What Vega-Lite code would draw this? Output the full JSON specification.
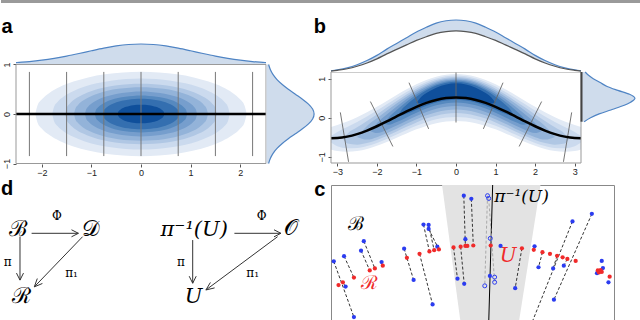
{
"$schema":"https://vega.github.io/schema/vega-lite/v6.json",
"padding":0,
"background":"white",
"config":{"view":{"stroke":null},"axis":{"grid":false,"domain":false,"tickSize":3,"tickColor":"#555","labelFontSize":9,"labelFont":"Liberation Sans","labelColor":"#222","labelFlush":false}},
"datasets":{
"aTop":[{"x":-2.52,"d":0.072},{"x":-2.5,"d":0.076},{"x":-2.25,"d":0.123},{"x":-2,"d":0.191},{"x":-1.75,"d":0.282},{"x":-1.5,"d":0.395},{"x":-1.25,"d":0.524},{"x":-1,"d":0.662},{"x":-0.75,"d":0.793},{"x":-0.5,"d":0.902},{"x":-0.25,"d":0.975},{"x":0,"d":1},{"x":0.25,"d":0.975},{"x":0.5,"d":0.902},{"x":0.75,"d":0.793},{"x":1,"d":0.662},{"x":1.25,"d":0.524},{"x":1.5,"d":0.395},{"x":1.75,"d":0.282},{"x":2,"d":0.191},{"x":2.25,"d":0.123},{"x":2.5,"d":0.076},{"x":2.52,"d":0.072}],
"aRight":[{"y":-1,"h":0.044},{"y":-0.9,"h":0.08},{"y":-0.8,"h":0.135},{"y":-0.7,"h":0.216},{"y":-0.6,"h":0.325},{"y":-0.5,"h":0.458},{"y":-0.4,"h":0.607},{"y":-0.3,"h":0.755},{"y":-0.2,"h":0.882},{"y":-0.1,"h":0.969},{"y":0,"h":1},{"y":0.1,"h":0.969},{"y":0.2,"h":0.882},{"y":0.3,"h":0.755},{"y":0.4,"h":0.607},{"y":0.5,"h":0.458},{"y":0.6,"h":0.325},{"y":0.7,"h":0.216},{"y":0.8,"h":0.135},{"y":0.9,"h":0.08},{"y":1,"h":0.044}],
"aEll":[
{"l":1,"x":-2.13,"y":0,"y2":0},{"l":1,"x":-2.087,"y":0.17,"y2":-0.17},{"l":1,"x":-2.002,"y":0.291,"y2":-0.291},{"l":1,"x":-1.853,"y":0.42,"y2":-0.42},{"l":1,"x":-1.64,"y":0.544,"y2":-0.544},{"l":1,"x":-1.363,"y":0.654,"y2":-0.654},{"l":1,"x":-1.065,"y":0.738,"y2":-0.738},{"l":1,"x":-0.724,"y":0.801,"y2":-0.801},{"l":1,"x":-0.362,"y":0.839,"y2":-0.839},{"l":1,"x":0,"y":0.852,"y2":-0.852},{"l":1,"x":0.362,"y":0.839,"y2":-0.839},{"l":1,"x":0.724,"y":0.801,"y2":-0.801},{"l":1,"x":1.065,"y":0.738,"y2":-0.738},{"l":1,"x":1.363,"y":0.654,"y2":-0.654},{"l":1,"x":1.64,"y":0.544,"y2":-0.544},{"l":1,"x":1.853,"y":0.42,"y2":-0.42},{"l":1,"x":2.002,"y":0.291,"y2":-0.291},{"l":1,"x":2.087,"y":0.17,"y2":-0.17},{"l":1,"x":2.13,"y":0,"y2":0},
{"l":2,"x":-1.79,"y":0,"y2":0},{"l":2,"x":-1.754,"y":0.142,"y2":-0.142},{"l":2,"x":-1.683,"y":0.244,"y2":-0.244},{"l":2,"x":-1.557,"y":0.353,"y2":-0.353},{"l":2,"x":-1.378,"y":0.457,"y2":-0.457},{"l":2,"x":-1.146,"y":0.55,"y2":-0.55},{"l":2,"x":-0.895,"y":0.62,"y2":-0.62},{"l":2,"x":-0.609,"y":0.673,"y2":-0.673},{"l":2,"x":-0.304,"y":0.705,"y2":-0.705},{"l":2,"x":0,"y":0.716,"y2":-0.716},{"l":2,"x":0.304,"y":0.705,"y2":-0.705},{"l":2,"x":0.609,"y":0.673,"y2":-0.673},{"l":2,"x":0.895,"y":0.62,"y2":-0.62},{"l":2,"x":1.146,"y":0.55,"y2":-0.55},{"l":2,"x":1.378,"y":0.457,"y2":-0.457},{"l":2,"x":1.557,"y":0.353,"y2":-0.353},{"l":2,"x":1.683,"y":0.244,"y2":-0.244},{"l":2,"x":1.754,"y":0.142,"y2":-0.142},{"l":2,"x":1.79,"y":0,"y2":0},
{"l":3,"x":-1.53,"y":0,"y2":0},{"l":3,"x":-1.499,"y":0.122,"y2":-0.122},{"l":3,"x":-1.438,"y":0.209,"y2":-0.209},{"l":3,"x":-1.331,"y":0.302,"y2":-0.302},{"l":3,"x":-1.178,"y":0.39,"y2":-0.39},{"l":3,"x":-0.979,"y":0.47,"y2":-0.47},{"l":3,"x":-0.765,"y":0.53,"y2":-0.53},{"l":3,"x":-0.52,"y":0.575,"y2":-0.575},{"l":3,"x":-0.26,"y":0.603,"y2":-0.603},{"l":3,"x":0,"y":0.612,"y2":-0.612},{"l":3,"x":0.26,"y":0.603,"y2":-0.603},{"l":3,"x":0.52,"y":0.575,"y2":-0.575},{"l":3,"x":0.765,"y":0.53,"y2":-0.53},{"l":3,"x":0.979,"y":0.47,"y2":-0.47},{"l":3,"x":1.178,"y":0.39,"y2":-0.39},{"l":3,"x":1.331,"y":0.302,"y2":-0.302},{"l":3,"x":1.438,"y":0.209,"y2":-0.209},{"l":3,"x":1.499,"y":0.122,"y2":-0.122},{"l":3,"x":1.53,"y":0,"y2":0},
{"l":4,"x":-1.35,"y":0,"y2":0},{"l":4,"x":-1.323,"y":0.107,"y2":-0.107},{"l":4,"x":-1.269,"y":0.184,"y2":-0.184},{"l":4,"x":-1.175,"y":0.266,"y2":-0.266},{"l":4,"x":-1.04,"y":0.345,"y2":-0.345},{"l":4,"x":-0.864,"y":0.415,"y2":-0.415},{"l":4,"x":-0.675,"y":0.468,"y2":-0.468},{"l":4,"x":-0.459,"y":0.508,"y2":-0.508},{"l":4,"x":-0.23,"y":0.532,"y2":-0.532},{"l":4,"x":0,"y":0.54,"y2":-0.54},{"l":4,"x":0.23,"y":0.532,"y2":-0.532},{"l":4,"x":0.459,"y":0.508,"y2":-0.508},{"l":4,"x":0.675,"y":0.468,"y2":-0.468},{"l":4,"x":0.864,"y":0.415,"y2":-0.415},{"l":4,"x":1.04,"y":0.345,"y2":-0.345},{"l":4,"x":1.175,"y":0.266,"y2":-0.266},{"l":4,"x":1.269,"y":0.184,"y2":-0.184},{"l":4,"x":1.323,"y":0.107,"y2":-0.107},{"l":4,"x":1.35,"y":0,"y2":0},
{"l":5,"x":-1.13,"y":0,"y2":0},{"l":5,"x":-1.107,"y":0.09,"y2":-0.09},{"l":5,"x":-1.062,"y":0.154,"y2":-0.154},{"l":5,"x":-0.983,"y":0.223,"y2":-0.223},{"l":5,"x":-0.87,"y":0.288,"y2":-0.288},{"l":5,"x":-0.723,"y":0.347,"y2":-0.347},{"l":5,"x":-0.565,"y":0.391,"y2":-0.391},{"l":5,"x":-0.384,"y":0.425,"y2":-0.425},{"l":5,"x":-0.192,"y":0.445,"y2":-0.445},{"l":5,"x":0,"y":0.452,"y2":-0.452},{"l":5,"x":0.192,"y":0.445,"y2":-0.445},{"l":5,"x":0.384,"y":0.425,"y2":-0.425},{"l":5,"x":0.565,"y":0.391,"y2":-0.391},{"l":5,"x":0.723,"y":0.347,"y2":-0.347},{"l":5,"x":0.87,"y":0.288,"y2":-0.288},{"l":5,"x":0.983,"y":0.223,"y2":-0.223},{"l":5,"x":1.062,"y":0.154,"y2":-0.154},{"l":5,"x":1.107,"y":0.09,"y2":-0.09},{"l":5,"x":1.13,"y":0,"y2":0},
{"l":6,"x":-0.93,"y":0,"y2":0},{"l":6,"x":-0.911,"y":0.074,"y2":-0.074},{"l":6,"x":-0.874,"y":0.127,"y2":-0.127},{"l":6,"x":-0.809,"y":0.183,"y2":-0.183},{"l":6,"x":-0.716,"y":0.237,"y2":-0.237},{"l":6,"x":-0.595,"y":0.286,"y2":-0.286},{"l":6,"x":-0.465,"y":0.322,"y2":-0.322},{"l":6,"x":-0.316,"y":0.35,"y2":-0.35},{"l":6,"x":-0.158,"y":0.366,"y2":-0.366},{"l":6,"x":0,"y":0.372,"y2":-0.372},{"l":6,"x":0.158,"y":0.366,"y2":-0.366},{"l":6,"x":0.316,"y":0.35,"y2":-0.35},{"l":6,"x":0.465,"y":0.322,"y2":-0.322},{"l":6,"x":0.595,"y":0.286,"y2":-0.286},{"l":6,"x":0.716,"y":0.237,"y2":-0.237},{"l":6,"x":0.809,"y":0.183,"y2":-0.183},{"l":6,"x":0.874,"y":0.127,"y2":-0.127},{"l":6,"x":0.911,"y":0.074,"y2":-0.074},{"l":6,"x":0.93,"y":0,"y2":0},
{"l":7,"x":-0.77,"y":0,"y2":0},{"l":7,"x":-0.755,"y":0.061,"y2":-0.061},{"l":7,"x":-0.724,"y":0.105,"y2":-0.105},{"l":7,"x":-0.67,"y":0.152,"y2":-0.152},{"l":7,"x":-0.593,"y":0.197,"y2":-0.197},{"l":7,"x":-0.493,"y":0.237,"y2":-0.237},{"l":7,"x":-0.385,"y":0.267,"y2":-0.267},{"l":7,"x":-0.262,"y":0.29,"y2":-0.29},{"l":7,"x":-0.131,"y":0.303,"y2":-0.303},{"l":7,"x":0,"y":0.308,"y2":-0.308},{"l":7,"x":0.131,"y":0.303,"y2":-0.303},{"l":7,"x":0.262,"y":0.29,"y2":-0.29},{"l":7,"x":0.385,"y":0.267,"y2":-0.267},{"l":7,"x":0.493,"y":0.237,"y2":-0.237},{"l":7,"x":0.593,"y":0.197,"y2":-0.197},{"l":7,"x":0.67,"y":0.152,"y2":-0.152},{"l":7,"x":0.724,"y":0.105,"y2":-0.105},{"l":7,"x":0.755,"y":0.061,"y2":-0.061},{"l":7,"x":0.77,"y":0,"y2":0},
{"l":8,"x":-0.47,"y":0,"y2":0},{"l":8,"x":-0.461,"y":0.037,"y2":-0.037},{"l":8,"x":-0.442,"y":0.064,"y2":-0.064},{"l":8,"x":-0.409,"y":0.093,"y2":-0.093},{"l":8,"x":-0.362,"y":0.12,"y2":-0.12},{"l":8,"x":-0.301,"y":0.144,"y2":-0.144},{"l":8,"x":-0.235,"y":0.163,"y2":-0.163},{"l":8,"x":-0.16,"y":0.177,"y2":-0.177},{"l":8,"x":-0.08,"y":0.185,"y2":-0.185},{"l":8,"x":0,"y":0.188,"y2":-0.188},{"l":8,"x":0.08,"y":0.185,"y2":-0.185},{"l":8,"x":0.16,"y":0.177,"y2":-0.177},{"l":8,"x":0.235,"y":0.163,"y2":-0.163},{"l":8,"x":0.301,"y":0.144,"y2":-0.144},{"l":8,"x":0.362,"y":0.12,"y2":-0.12},{"l":8,"x":0.409,"y":0.093,"y2":-0.093},{"l":8,"x":0.442,"y":0.064,"y2":-0.064},{"l":8,"x":0.461,"y":0.037,"y2":-0.037},{"l":8,"x":0.47,"y":0,"y2":0}
],
"bTop":[{"x":-3.16,"h":0.02,"g":0.016},{"x":-3,"h":0.04,"g":0.032},{"x":-2.75,"h":0.08,"g":0.063},{"x":-2.5,"h":0.14,"g":0.111},{"x":-2.25,"h":0.22,"g":0.174},{"x":-2,"h":0.32,"g":0.253},{"x":-1.75,"h":0.44,"g":0.348},{"x":-1.5,"h":0.55,"g":0.435},{"x":-1.25,"h":0.66,"g":0.521},{"x":-1,"h":0.77,"g":0.608},{"x":-0.75,"h":0.86,"g":0.679},{"x":-0.5,"h":0.94,"g":0.743},{"x":-0.25,"h":0.985,"g":0.778},{"x":0,"h":1,"g":0.79},{"x":0.25,"h":0.985,"g":0.778},{"x":0.5,"h":0.94,"g":0.743},{"x":0.75,"h":0.86,"g":0.679},{"x":1,"h":0.77,"g":0.608},{"x":1.25,"h":0.66,"g":0.521},{"x":1.5,"h":0.55,"g":0.435},{"x":1.75,"h":0.44,"g":0.348},{"x":2,"h":0.32,"g":0.253},{"x":2.25,"h":0.22,"g":0.174},{"x":2.5,"h":0.14,"g":0.111},{"x":2.75,"h":0.08,"g":0.063},{"x":3,"h":0.04,"g":0.032},{"x":3.16,"h":0.02,"g":0.016}],
"bRight":[{"y":-0.1,"h":0.05},{"y":0,"h":0.17},{"y":0.1,"h":0.33},{"y":0.2,"h":0.55},{"y":0.3,"h":0.76},{"y":0.4,"h":0.92},{"y":0.5,"h":1},{"y":0.6,"h":0.9},{"y":0.7,"h":0.68},{"y":0.8,"h":0.48},{"y":0.9,"h":0.35},{"y":1,"h":0.22},{"y":1.1,"h":0.12},{"y":1.17,"h":0.07}],
"bCurve":[{"x":-3.16,"y":-0.52},{"x":-3,"y":-0.515},{"x":-2.75,"y":-0.481},{"x":-2.5,"y":-0.417},{"x":-2.25,"y":-0.327},{"x":-2,"y":-0.216},{"x":-1.75,"y":-0.093},{"x":-1.5,"y":0.037},{"x":-1.25,"y":0.164},{"x":-1,"y":0.281},{"x":-0.75,"y":0.38},{"x":-0.5,"y":0.456},{"x":-0.25,"y":0.504},{"x":0,"y":0.52},{"x":0.25,"y":0.504},{"x":0.5,"y":0.456},{"x":0.75,"y":0.38},{"x":1,"y":0.281},{"x":1.25,"y":0.164},{"x":1.5,"y":0.037},{"x":1.75,"y":-0.093},{"x":2,"y":-0.216},{"x":2.25,"y":-0.327},{"x":2.5,"y":-0.417},{"x":2.75,"y":-0.481},{"x":3,"y":-0.515},{"x":3.16,"y":-0.52}],
"bLines":[{"x":0,"y":-0.12,"x2":0,"y2":1.16},{"x":1.188,"y":0.897,"x2":0.692,"y2":-0.283},{"x":-1.188,"y":0.897,"x2":-0.692,"y2":-0.283},{"x":2.164,"y":0.415,"x2":1.596,"y2":-0.733},{"x":-2.164,"y":0.415,"x2":-1.596,"y2":-0.733},{"x":2.924,"y":0.138,"x2":2.716,"y2":-1.125},{"x":-2.924,"y":0.138,"x2":-2.716,"y2":-1.125}],
"bBand":[
{"l":1,"x":-3.16,"y":-0.233,"y2":-0.807},{"l":1,"x":-3,"y":-0.183,"y2":-0.847},{"l":1,"x":-2.75,"y":-0.094,"y2":-0.868},{"l":1,"x":-2.5,"y":0.015,"y2":-0.849},{"l":1,"x":-2.25,"y":0.141,"y2":-0.795},{"l":1,"x":-2,"y":0.283,"y2":-0.715},{"l":1,"x":-1.75,"y":0.431,"y2":-0.617},{"l":1,"x":-1.5,"y":0.582,"y2":-0.508},{"l":1,"x":-1.25,"y":0.727,"y2":-0.399},{"l":1,"x":-1,"y":0.857,"y2":-0.295},{"l":1,"x":-0.75,"y":0.967,"y2":-0.207},{"l":1,"x":-0.5,"y":1.05,"y2":-0.138},{"l":1,"x":-0.25,"y":1.102,"y2":-0.095},{"l":1,"x":0,"y":1.12,"y2":-0.08},{"l":1,"x":0.25,"y":1.102,"y2":-0.095},{"l":1,"x":0.5,"y":1.05,"y2":-0.138},{"l":1,"x":0.75,"y":0.967,"y2":-0.207},{"l":1,"x":1,"y":0.857,"y2":-0.295},{"l":1,"x":1.25,"y":0.727,"y2":-0.399},{"l":1,"x":1.5,"y":0.582,"y2":-0.508},{"l":1,"x":1.75,"y":0.431,"y2":-0.617},{"l":1,"x":2,"y":0.283,"y2":-0.715},{"l":1,"x":2.25,"y":0.141,"y2":-0.795},{"l":1,"x":2.5,"y":0.015,"y2":-0.849},{"l":1,"x":2.75,"y":-0.094,"y2":-0.868},{"l":1,"x":3,"y":-0.183,"y2":-0.847},{"l":1,"x":3.16,"y":-0.233,"y2":-0.807},
{"l":2,"x":-3.16,"y":-0.466,"y2":-0.633},{"l":2,"x":-3,"y":-0.361,"y2":-0.729},{"l":2,"x":-2.75,"y":-0.237,"y2":-0.779},{"l":2,"x":-2.5,"y":-0.11,"y2":-0.772},{"l":2,"x":-2.25,"y":0.031,"y2":-0.723},{"l":2,"x":-2,"y":0.185,"y2":-0.643},{"l":2,"x":-1.75,"y":0.346,"y2":-0.542},{"l":2,"x":-1.5,"y":0.507,"y2":-0.429},{"l":2,"x":-1.25,"y":0.661,"y2":-0.315},{"l":2,"x":-1,"y":0.8,"y2":-0.206},{"l":2,"x":-0.75,"y":0.917,"y2":-0.113},{"l":2,"x":-0.5,"y":1.006,"y2":-0.04},{"l":2,"x":-0.25,"y":1.061,"y2":0.005},{"l":2,"x":0,"y":1.08,"y2":0.02},{"l":2,"x":0.25,"y":1.061,"y2":0.005},{"l":2,"x":0.5,"y":1.006,"y2":-0.04},{"l":2,"x":0.75,"y":0.917,"y2":-0.113},{"l":2,"x":1,"y":0.8,"y2":-0.206},{"l":2,"x":1.25,"y":0.661,"y2":-0.315},{"l":2,"x":1.5,"y":0.507,"y2":-0.429},{"l":2,"x":1.75,"y":0.346,"y2":-0.542},{"l":2,"x":2,"y":0.185,"y2":-0.643},{"l":2,"x":2.25,"y":0.031,"y2":-0.723},{"l":2,"x":2.5,"y":-0.11,"y2":-0.772},{"l":2,"x":2.75,"y":-0.237,"y2":-0.779},{"l":2,"x":3,"y":-0.361,"y2":-0.729},{"l":2,"x":3.16,"y":-0.466,"y2":-0.633},
{"l":3,"x":-2.85,"y":-0.556,"y2":-0.556},{"l":3,"x":-2.75,"y":-0.415,"y2":-0.657},{"l":3,"x":-2.5,"y":-0.244,"y2":-0.686},{"l":3,"x":-2.25,"y":-0.082,"y2":-0.646},{"l":3,"x":-2,"y":0.087,"y2":-0.569},{"l":3,"x":-1.75,"y":0.26,"y2":-0.466},{"l":3,"x":-1.5,"y":0.432,"y2":-0.35},{"l":3,"x":-1.25,"y":0.596,"y2":-0.23},{"l":3,"x":-1,"y":0.744,"y2":-0.118},{"l":3,"x":-0.75,"y":0.868,"y2":-0.02},{"l":3,"x":-0.5,"y":0.964,"y2":0.054},{"l":3,"x":-0.25,"y":1.02,"y2":0.104},{"l":3,"x":0,"y":1.04,"y2":0.12},{"l":3,"x":0.25,"y":1.02,"y2":0.104},{"l":3,"x":0.5,"y":0.964,"y2":0.054},{"l":3,"x":0.75,"y":0.868,"y2":-0.02},{"l":3,"x":1,"y":0.744,"y2":-0.118},{"l":3,"x":1.25,"y":0.596,"y2":-0.23},{"l":3,"x":1.5,"y":0.432,"y2":-0.35},{"l":3,"x":1.75,"y":0.26,"y2":-0.466},{"l":3,"x":2,"y":0.087,"y2":-0.569},{"l":3,"x":2.25,"y":-0.082,"y2":-0.646},{"l":3,"x":2.5,"y":-0.244,"y2":-0.686},{"l":3,"x":2.75,"y":-0.415,"y2":-0.657},{"l":3,"x":2.85,"y":-0.556,"y2":-0.556},
{"l":4,"x":-2.5,"y":-0.489,"y2":-0.489},{"l":4,"x":-2.25,"y":-0.209,"y2":-0.557},{"l":4,"x":-2,"y":-0.014,"y2":-0.494},{"l":4,"x":-1.75,"y":0.177,"y2":-0.395},{"l":4,"x":-1.5,"y":0.363,"y2":-0.277},{"l":4,"x":-1.25,"y":0.538,"y2":-0.154},{"l":4,"x":-1,"y":0.697,"y2":-0.037},{"l":4,"x":-0.75,"y":0.828,"y2":0.064},{"l":4,"x":-0.5,"y":0.927,"y2":0.143},{"l":4,"x":-0.25,"y":0.989,"y2":0.193},{"l":4,"x":0,"y":1.01,"y2":0.21},{"l":4,"x":0.25,"y":0.989,"y2":0.193},{"l":4,"x":0.5,"y":0.927,"y2":0.143},{"l":4,"x":0.75,"y":0.828,"y2":0.064},{"l":4,"x":1,"y":0.697,"y2":-0.037},{"l":4,"x":1.25,"y":0.538,"y2":-0.154},{"l":4,"x":1.5,"y":0.363,"y2":-0.277},{"l":4,"x":1.75,"y":0.177,"y2":-0.395},{"l":4,"x":2,"y":-0.014,"y2":-0.494},{"l":4,"x":2.25,"y":-0.209,"y2":-0.557},{"l":4,"x":2.5,"y":-0.489,"y2":-0.489},
{"l":5,"x":-2.15,"y":-0.35,"y2":-0.35},{"l":5,"x":-2,"y":-0.141,"y2":-0.391},{"l":5,"x":-1.75,"y":0.084,"y2":-0.312},{"l":5,"x":-1.5,"y":0.289,"y2":-0.199},{"l":5,"x":-1.25,"y":0.479,"y2":-0.075},{"l":5,"x":-1,"y":0.647,"y2":0.045},{"l":5,"x":-0.75,"y":0.787,"y2":0.149},{"l":5,"x":-0.5,"y":0.893,"y2":0.231},{"l":5,"x":-0.25,"y":0.958,"y2":0.282},{"l":5,"x":0,"y":0.98,"y2":0.3},{"l":5,"x":0.25,"y":0.958,"y2":0.282},{"l":5,"x":0.5,"y":0.893,"y2":0.231},{"l":5,"x":0.75,"y":0.787,"y2":0.149},{"l":5,"x":1,"y":0.647,"y2":0.045},{"l":5,"x":1.25,"y":0.479,"y2":-0.075},{"l":5,"x":1.5,"y":0.289,"y2":-0.199},{"l":5,"x":1.75,"y":0.084,"y2":-0.312},{"l":5,"x":2,"y":-0.141,"y2":-0.391},{"l":5,"x":2.15,"y":-0.35,"y2":-0.35},
{"l":6,"x":-1.8,"y":-0.152,"y2":-0.152},{"l":6,"x":-1.7,"y":0.006,"y2":-0.178},{"l":6,"x":-1.5,"y":0.202,"y2":-0.108},{"l":6,"x":-1.25,"y":0.412,"y2":0.01},{"l":6,"x":-1,"y":0.595,"y2":0.129},{"l":6,"x":-0.75,"y":0.745,"y2":0.235},{"l":6,"x":-0.5,"y":0.857,"y2":0.319},{"l":6,"x":-0.25,"y":0.926,"y2":0.372},{"l":6,"x":0,"y":0.95,"y2":0.39},{"l":6,"x":0.25,"y":0.926,"y2":0.372},{"l":6,"x":0.5,"y":0.857,"y2":0.319},{"l":6,"x":0.75,"y":0.745,"y2":0.235},{"l":6,"x":1,"y":0.595,"y2":0.129},{"l":6,"x":1.25,"y":0.412,"y2":0.01},{"l":6,"x":1.5,"y":0.202,"y2":-0.108},{"l":6,"x":1.7,"y":0.006,"y2":-0.178},{"l":6,"x":1.8,"y":-0.152,"y2":-0.152},
{"l":7,"x":-1.45,"y":0.083,"y2":0.083},{"l":7,"x":-1.38,"y":0.202,"y2":0.06},{"l":7,"x":-1.25,"y":0.335,"y2":0.101},{"l":7,"x":-1,"y":0.54,"y2":0.206},{"l":7,"x":-0.75,"y":0.702,"y2":0.308},{"l":7,"x":-0.5,"y":0.822,"y2":0.39},{"l":7,"x":-0.25,"y":0.896,"y2":0.442},{"l":7,"x":0,"y":0.92,"y2":0.46},{"l":7,"x":0.25,"y":0.896,"y2":0.442},{"l":7,"x":0.5,"y":0.822,"y2":0.39},{"l":7,"x":0.75,"y":0.702,"y2":0.308},{"l":7,"x":1,"y":0.54,"y2":0.206},{"l":7,"x":1.25,"y":0.335,"y2":0.101},{"l":7,"x":1.38,"y":0.202,"y2":0.06},{"l":7,"x":1.45,"y":0.083,"y2":0.083},
{"l":8,"x":-1,"y":0.384,"y2":0.384},{"l":8,"x":-0.9,"y":0.515,"y2":0.367},{"l":8,"x":-0.75,"y":0.632,"y2":0.408},{"l":8,"x":-0.5,"y":0.77,"y2":0.476},{"l":8,"x":-0.25,"y":0.853,"y2":0.523},{"l":8,"x":0,"y":0.88,"y2":0.54},{"l":8,"x":0.25,"y":0.853,"y2":0.523},{"l":8,"x":0.5,"y":0.77,"y2":0.476},{"l":8,"x":0.75,"y":0.632,"y2":0.408},{"l":8,"x":0.9,"y":0.515,"y2":0.367},{"l":8,"x":1,"y":0.384,"y2":0.384}
],
"cBlue":[{"x":-3.09,"y":1.56},{"x":-2.83,"y":1.69},{"x":-2.79,"y":0.92},{"x":-2.58,"y":0.15},{"x":-2.4,"y":1.83},{"x":-2.33,"y":2.07},{"x":-1.88,"y":1.54},{"x":-1.31,"y":1.88},{"x":-1.07,"y":1.09},{"x":-0.59,"y":0.47},{"x":-0.82,"y":2.49},{"x":-0.69,"y":2.48},{"x":-0.69,"y":2.38},{"x":-0.47,"y":1.93},{"x":0.04,"y":1.12},{"x":0.2,"y":3.22},{"x":0.21,"y":0.99},{"x":0.24,"y":2.12},{"x":0.39,"y":3.14},{"x":0.86,"y":1.19},{"x":1.13,"y":1.95},{"x":1.5,"y":0.88},{"x":1.99,"y":1.94},{"x":2.09,"y":1.41},{"x":2.46,"y":1.38},{"x":2.48,"y":0.59},{"x":2.73,"y":1.45},{"x":2.95,"y":2.57},{"x":3.44,"y":2.76},{"x":3.69,"y":1.57},{"x":3.72,"y":1.39},{"x":3.57,"y":1.26},{"x":3.86,"y":1.03}],
"cRed":[{"x":-2.97,"y":0.96},{"x":-2.86,"y":1.03},{"x":-2.58,"y":1.15},{"x":-2.18,"y":1.33},{"x":-2.05,"y":1.38},{"x":-1.85,"y":1.45},{"x":-1.24,"y":1.65},{"x":-0.92,"y":1.75},{"x":-0.67,"y":1.81},{"x":-0.55,"y":1.84},{"x":-0.43,"y":1.86},{"x":-0.06,"y":1.91},{"x":0.12,"y":1.93},{"x":0.24,"y":1.95},{"x":0.29,"y":1.95},{"x":0.44,"y":1.96},{"x":0.88,"y":1.96},{"x":1.67,"y":1.89},{"x":1.97,"y":1.85},{"x":2.19,"y":1.79},{"x":2.38,"y":1.75},{"x":2.56,"y":1.7},{"x":2.7,"y":1.66},{"x":2.82,"y":1.62},{"x":3.03,"y":1.57},{"x":3.59,"y":1.33},{"x":3.66,"y":1.34},{"x":3.62,"y":1.28},{"x":3.69,"y":1.29},{"x":3.89,"y":1.17}],
"cHollow":[{"x":0.8,"y":3.22},{"x":0.83,"y":3.15},{"x":0.87,"y":2.14},{"x":0.98,"y":1.16},{"x":0.98,"y":1.03},{"x":0.73,"y":0.94}],
"cSeg":[{"x":-3.09,"y":1.56,"x2":-2.58,"y2":0.15},{"x":-2.83,"y":1.69,"x2":-2.58,"y2":1.15},{"x":-2.86,"y":1.03,"x2":-2.79,"y2":0.92},{"x":-2.4,"y":1.83,"x2":-2.18,"y2":1.33},{"x":-2.33,"y":2.07,"x2":-2.05,"y2":1.38},{"x":-1.31,"y":1.88,"x2":-1.07,"y2":1.09},{"x":-0.92,"y":1.75,"x2":-0.59,"y2":0.47},{"x":-0.82,"y":2.49,"x2":-0.67,"y2":1.81},{"x":-0.69,"y":2.48,"x2":-0.55,"y2":1.84},{"x":-0.69,"y":2.38,"x2":-0.43,"y2":1.86},{"x":-0.06,"y":1.91,"x2":0.04,"y2":1.12},{"x":0.12,"y":1.93,"x2":0.21,"y2":0.99},{"x":0.2,"y":3.22,"x2":0.24,"y2":1.95},{"x":0.39,"y":3.14,"x2":0.44,"y2":1.96},{"x":1.67,"y":1.89,"x2":1.5,"y2":0.88},{"x":2.19,"y":1.79,"x2":2.09,"y2":1.41},{"x":2.56,"y":1.7,"x2":2.46,"y2":1.38},{"x":2.82,"y":1.62,"x2":2.73,"y2":1.45},{"x":2.95,"y":2.57,"x2":1.9,"y2":-0.05},{"x":3.44,"y":2.76,"x2":2.48,"y2":0.59}],
"cSegL":[{"x":0.8,"y":3.22,"x2":0.73,"y2":0.94},{"x":0.83,"y":3.15,"x2":0.98,"y2":1.03}],
"dSeg":[{"x":1.02,"y":2.95,"x2":2.58,"y2":2.95},{"x":2.35,"y":3.085,"x2":2.58,"y2":2.95},{"x":2.35,"y":2.815,"x2":2.58,"y2":2.95},{"x":0.633,"y":2.82,"x2":0.633,"y2":1.15},{"x":0.516,"y":1.42,"x2":0.633,"y2":1.15},{"x":0.75,"y":1.42,"x2":0.633,"y2":1.15},{"x":2.72,"y":2.82,"x2":1.11,"y2":0.89},{"x":1.38,"y":1.02,"x2":1.11,"y2":0.89},{"x":1.21,"y":1.21,"x2":1.11,"y2":0.89},{"x":7.78,"y":2.95,"x2":9.33,"y2":2.95},{"x":9.1,"y":3.085,"x2":9.33,"y2":2.95},{"x":9.1,"y":2.815,"x2":9.33,"y2":2.95},{"x":6.39,"y":2.69,"x2":6.39,"y2":1.03},{"x":6.273,"y":1.3,"x2":6.39,"y2":1.03},{"x":6.507,"y":1.3,"x2":6.39,"y2":1.03},{"x":9.22,"y":2.82,"x2":6.83,"y2":0.77},{"x":7.12,"y":0.85,"x2":6.83,"y2":0.77},{"x":6.98,"y":1.06,"x2":6.83,"y2":0.77}],
"dBig":[{"t":"ℬ","x":0.583,"y":2.83},{"t":"𝒟","x":3.0,"y":2.83},{"t":"ℛ","x":0.693,"y":0.27},{"t":"𝒪","x":9.67,"y":2.88}],
"dItal":[{"t":"π⁻¹(U)","x":6.44,"y":2.85},{"t":"U","x":6.42,"y":0.27}],
"dSmall":[{"t":"Φ","x":1.86,"y":3.46},{"t":"π","x":0.223,"y":1.69},{"t":"π₁","x":2.35,"y":1.27},{"t":"Φ","x":8.69,"y":3.46},{"t":"π","x":6.0,"y":1.69},{"t":"π₁","x":8.39,"y":1.27}]
},
"spacing":14,
"vconcat":[
{"width":640,"height":3,"view":{"fill":"#9a9a9a","stroke":null},"data":{"values":[]},"mark":{"type":"point"},"encoding":{}},
{"spacing":-4,"hconcat":[
 {"spacing":2,"vconcat":[
  {"width":315,"height":144,"resolve":{"scale":{"x":"independent","y":"independent"}},"layer":[
   {"layer":[
    {"data":{"name":"aEll"},"mark":{"type":"area","interpolate":"monotone","opacity":1},
     "encoding":{"x":{"field":"x","type":"quantitative","scale":{"domain":[-2.8224,3.528],"nice":false,"zero":false},"axis":{"values":[-2,-1,0,1,2],"title":null,"labelPadding":1,"format":"d"}},
                 "y":{"field":"y","type":"quantitative","stack":null,"scale":{"domain":[-1.01,1.8988],"nice":false,"zero":false},"axis":{"values":[-1,0,1],"title":null,"offset":-15,"format":"d","labelAngle":-90,"labelAlign":"center","labelBaseline":"bottom","labelPadding":2}},
                 "y2":{"field":"y2"},
                 "color":{"field":"l","type":"ordinal","scale":{"domain":[1,2,3,4,5,6,7,8],"range":["#e2eaf5","#cbdaee","#b0c7e4","#93b3d9","#769ecd","#5689bf","#346fb0","#0f4f9b"]},"legend":null}}},
    {"data":{"values":[{"x":-2.25},{"x":-1.5},{"x":-0.75},{"x":0},{"x":0.75},{"x":1.5},{"x":2.25}]},"mark":{"type":"rule","color":"#777","strokeWidth":1},
     "encoding":{"x":{"field":"x","type":"quantitative","scale":{"domain":[-2.8224,3.528],"nice":false,"zero":false},"axis":{"values":[-2,-1,0,1,2],"title":null,"labelPadding":1,"format":"d"}},
                 "y":{"datum":-0.85,"type":"quantitative","scale":{"domain":[-1.01,1.8988],"nice":false,"zero":false},"axis":{"values":[-1,0,1],"title":null,"offset":-15,"format":"d","labelAngle":-90,"labelAlign":"center","labelBaseline":"bottom","labelPadding":2}},
                 "y2":{"datum":0.85}}},
    {"data":{"values":[{}]},"mark":{"type":"rule","color":"#000","strokeWidth":2.5},
     "encoding":{"x":{"datum":-2.52,"type":"quantitative","scale":{"domain":[-2.8224,3.528],"nice":false,"zero":false},"axis":{"values":[-2,-1,0,1,2],"title":null,"labelPadding":1,"format":"d"}},
                 "x2":{"datum":2.52},
                 "y":{"datum":0,"type":"quantitative","scale":{"domain":[-1.01,1.8988],"nice":false,"zero":false},"axis":{"values":[-1,0,1],"title":null,"offset":-15,"format":"d","labelAngle":-90,"labelAlign":"center","labelBaseline":"bottom","labelPadding":2}}}},
    {"data":{"values":[{}]},"mark":{"type":"rect","fillOpacity":0,"stroke":"#999","strokeWidth":1},
     "encoding":{"x":{"datum":-2.52,"type":"quantitative","scale":{"domain":[-2.8224,3.528],"nice":false,"zero":false},"axis":{"values":[-2,-1,0,1,2],"title":null,"labelPadding":1,"format":"d"}},
                 "x2":{"datum":2.52},
                 "y":{"datum":-1,"type":"quantitative","scale":{"domain":[-1.01,1.8988],"nice":false,"zero":false},"axis":{"values":[-1,0,1],"title":null,"offset":-15,"format":"d","labelAngle":-90,"labelAlign":"center","labelBaseline":"bottom","labelPadding":2}},
                 "y2":{"datum":1}}}
   ]},
   {"layer":[
    {"data":{"name":"aTop"},"mark":{"type":"area","color":"#cfdcec","opacity":1,"interpolate":"monotone","line":{"color":"#4f84c4","strokeWidth":1.2}},
     "encoding":{"x":{"field":"x","type":"quantitative","scale":{"domain":[-2.8224,3.528],"nice":false,"zero":false},"axis":null},
                 "y":{"field":"d","type":"quantitative","scale":{"domain":[-5,2.2],"nice":false,"zero":false},"axis":null},
                 "y2":{"datum":0}}},
    {"data":{"values":[{}]},"mark":{"type":"text","text":"a","font":"Liberation Sans","fontSize":20,"fontWeight":"bold","align":"center","baseline":"alphabetic","color":"#000"},
     "encoding":{"x":{"datum":-2.7,"type":"quantitative","scale":{"domain":[-2.8224,3.528],"nice":false,"zero":false},"axis":null},
                 "y":{"datum":1.55,"type":"quantitative","scale":{"domain":[-5,2.2],"nice":false,"zero":false},"axis":null}}}
   ]},
   {"layer":[
    {"data":{"name":"aRight"},"mark":{"type":"area","orient":"horizontal","color":"#cfdcec","opacity":1,"interpolate":"cardinal"},
     "encoding":{"x":{"field":"h","type":"quantitative","scale":{"domain":[-5.578,1.04],"nice":false,"zero":false},"axis":null},
                 "x2":{"datum":0},
                 "y":{"field":"y","type":"quantitative","scale":{"domain":[-1.01,1.8988],"nice":false,"zero":false},"axis":null}}},
    {"data":{"name":"aRight"},"mark":{"type":"line","color":"#4f84c4","strokeWidth":1.2,"interpolate":"cardinal"},
     "encoding":{"x":{"field":"h","type":"quantitative","scale":{"domain":[-5.578,1.04],"nice":false,"zero":false},"axis":null},
                 "y":{"field":"y","type":"quantitative","scale":{"domain":[-1.01,1.8988],"nice":false,"zero":false},"axis":null},
                 "order":{"field":"y","type":"quantitative"}}}
   ]}
  ]},
  {"width":300,"height":130,"layer":[
   {"data":{"name":"dSeg"},"mark":{"type":"rule","color":"#333","strokeWidth":1},
    "encoding":{"x":{"field":"x","type":"quantitative","scale":{"domain":[0,10],"nice":false,"zero":false},"axis":null},
                "y":{"field":"y","type":"quantitative","scale":{"domain":[0,5],"nice":false,"zero":false},"axis":null},
                "x2":{"field":"x2"},"y2":{"field":"y2"}}},
   {"data":{"name":"dBig"},"mark":{"type":"text","font":"DejaVu Serif","fontSize":22,"align":"center","baseline":"alphabetic","color":"#000"},
    "encoding":{"x":{"field":"x","type":"quantitative","scale":{"domain":[0,10],"nice":false,"zero":false},"axis":null},
                "y":{"field":"y","type":"quantitative","scale":{"domain":[0,5],"nice":false,"zero":false},"axis":null},
                "text":{"field":"t"}}},
   {"data":{"name":"dItal"},"mark":{"type":"text","font":"DejaVu Serif","fontSize":21,"fontStyle":"italic","align":"center","baseline":"alphabetic","color":"#000"},
    "encoding":{"x":{"field":"x","type":"quantitative","scale":{"domain":[0,10],"nice":false,"zero":false},"axis":null},
                "y":{"field":"y","type":"quantitative","scale":{"domain":[0,5],"nice":false,"zero":false},"axis":null},
                "text":{"field":"t"}}},
   {"data":{"name":"dSmall"},"mark":{"type":"text","font":"DejaVu Serif","fontSize":12,"align":"center","baseline":"alphabetic","color":"#000"},
    "encoding":{"x":{"field":"x","type":"quantitative","scale":{"domain":[0,10],"nice":false,"zero":false},"axis":null},
                "y":{"field":"y","type":"quantitative","scale":{"domain":[0,5],"nice":false,"zero":false},"axis":null},
                "text":{"field":"t"}}},
   {"data":{"values":[{}]},"mark":{"type":"text","text":"d","font":"Liberation Sans","fontSize":20,"fontWeight":"bold","align":"center","baseline":"alphabetic","color":"#000"},
    "encoding":{"x":{"datum":0.2,"type":"quantitative","scale":{"domain":[0,10],"nice":false,"zero":false},"axis":null},
                "y":{"datum":4.42,"type":"quantitative","scale":{"domain":[0,5],"nice":false,"zero":false},"axis":null}}}
  ]}
 ]},
 {"spacing":3,"vconcat":[
  {"width":305,"height":143,"resolve":{"scale":{"x":"independent","y":"independent"}},"layer":[
   {"layer":[
    {"data":{"name":"bBand"},"mark":{"type":"area","interpolate":"monotone","opacity":1},
     "encoding":{"x":{"field":"x","type":"quantitative","scale":{"domain":[-3.16,4.55],"nice":false,"zero":false},"axis":{"values":[-3,-2,-1,0,1,2,3],"title":null,"labelPadding":1,"format":"d"}},
                 "y":{"field":"y","type":"quantitative","stack":null,"scale":{"domain":[-1.155,2.4986],"nice":false,"zero":false},"axis":{"values":[-1,0,1],"title":null,"format":"d","labelAngle":-90,"labelAlign":"center","labelBaseline":"bottom","labelPadding":2}},
                 "y2":{"field":"y2"},
                 "color":{"field":"l","type":"ordinal","scale":{"domain":[1,2,3,4,5,6,7,8],"range":["#e2eaf5","#cbdaee","#b0c7e4","#93b3d9","#769ecd","#5689bf","#346fb0","#0f4f9b"]},"legend":null}}},
    {"data":{"name":"bLines"},"mark":{"type":"rule","color":"#666","strokeWidth":0.9},
     "encoding":{"x":{"field":"x","type":"quantitative","scale":{"domain":[-3.16,4.55],"nice":false,"zero":false},"axis":{"values":[-3,-2,-1,0,1,2,3],"title":null,"labelPadding":1,"format":"d"}},
                 "y":{"field":"y","type":"quantitative","scale":{"domain":[-1.155,2.4986],"nice":false,"zero":false},"axis":{"values":[-1,0,1],"title":null,"format":"d","labelAngle":-90,"labelAlign":"center","labelBaseline":"bottom","labelPadding":2}},
                 "x2":{"field":"x2"},"y2":{"field":"y2"}}},
    {"data":{"name":"bCurve"},"mark":{"type":"line","color":"#000","strokeWidth":2.5,"interpolate":"monotone"},
     "encoding":{"x":{"field":"x","type":"quantitative","scale":{"domain":[-3.16,4.55],"nice":false,"zero":false},"axis":{"values":[-3,-2,-1,0,1,2,3],"title":null,"labelPadding":1,"format":"d"}},
                 "y":{"field":"y","type":"quantitative","scale":{"domain":[-1.155,2.4986],"nice":false,"zero":false},"axis":{"values":[-1,0,1],"title":null,"format":"d","labelAngle":-90,"labelAlign":"center","labelBaseline":"bottom","labelPadding":2}}}},
    {"data":{"values":[{}]},"mark":{"type":"rect","fillOpacity":0,"stroke":"#999","strokeWidth":1},
     "encoding":{"x":{"datum":-3.16,"type":"quantitative","scale":{"domain":[-3.16,4.55],"nice":false,"zero":false},"axis":{"values":[-3,-2,-1,0,1,2,3],"title":null,"labelPadding":1,"format":"d"}},
                 "x2":{"datum":3.16},
                 "y":{"datum":-1.155,"type":"quantitative","scale":{"domain":[-1.155,2.4986],"nice":false,"zero":false},"axis":{"values":[-1,0,1],"title":null,"format":"d","labelAngle":-90,"labelAlign":"center","labelBaseline":"bottom","labelPadding":2}},
                 "y2":{"datum":1.17}}}
   ]},
   {"layer":[
    {"data":{"name":"bTop"},"mark":{"type":"area","color":"#cfdcec","opacity":1,"interpolate":"monotone","line":{"color":"#4f84c4","strokeWidth":1.2}},
     "encoding":{"x":{"field":"x","type":"quantitative","scale":{"domain":[-3.16,4.55],"nice":false,"zero":false},"axis":null},
                 "y":{"field":"h","type":"quantitative","scale":{"domain":[-1.75,1],"nice":false,"zero":false},"axis":null},
                 "y2":{"datum":0}}},
    {"data":{"name":"bTop"},"mark":{"type":"area","color":"#ffffff","opacity":1,"interpolate":"monotone","line":{"color":"#555","strokeWidth":1.2}},
     "encoding":{"x":{"field":"x","type":"quantitative","scale":{"domain":[-3.16,4.55],"nice":false,"zero":false},"axis":null},
                 "y":{"field":"g","type":"quantitative","scale":{"domain":[-1.75,1],"nice":false,"zero":false},"axis":null},
                 "y2":{"datum":0}}},
    {"data":{"values":[{}]},"mark":{"type":"text","text":"b","font":"Liberation Sans","fontSize":20,"fontWeight":"bold","align":"center","baseline":"alphabetic","color":"#000"},
     "encoding":{"x":{"datum":-3.44,"type":"quantitative","scale":{"domain":[-3.16,4.55],"nice":false,"zero":false},"axis":null},
                 "y":{"datum":0.75,"type":"quantitative","scale":{"domain":[-1.75,1],"nice":false,"zero":false},"axis":null}}}
   ]},
   {"layer":[
    {"data":{"name":"bRight"},"mark":{"type":"area","orient":"horizontal","color":"#cfdcec","opacity":1,"interpolate":"cardinal"},
     "encoding":{"x":{"field":"h","type":"quantitative","scale":{"domain":[-4.688,1.02],"nice":false,"zero":false},"axis":null},
                 "x2":{"datum":0},
                 "y":{"field":"y","type":"quantitative","scale":{"domain":[-1.155,2.4986],"nice":false,"zero":false},"axis":null}}},
    {"data":{"name":"bRight"},"mark":{"type":"line","color":"#4f84c4","strokeWidth":1.2,"interpolate":"cardinal"},
     "encoding":{"x":{"field":"h","type":"quantitative","scale":{"domain":[-4.688,1.02],"nice":false,"zero":false},"axis":null},
                 "y":{"field":"y","type":"quantitative","scale":{"domain":[-1.155,2.4986],"nice":false,"zero":false},"axis":null},
                 "order":{"field":"y","type":"quantitative"}}},
    {"data":{"values":[{}]},"mark":{"type":"rule","color":"#444","strokeWidth":2},
     "encoding":{"x":{"datum":0,"type":"quantitative","scale":{"domain":[-4.688,1.02],"nice":false,"zero":false},"axis":null},
                 "y":{"datum":-0.1,"type":"quantitative","scale":{"domain":[-1.155,2.4986],"nice":false,"zero":false},"axis":null},
                 "y2":{"datum":1.17}}}
   ]}
  ]},
  {"width":283,"height":138,"view":{"stroke":"#888"},"layer":[
   {"data":{"values":[{"y":0,"xl":0.12,"xr":1.59},{"y":3.49,"xl":-0.35,"xr":2.14}]},"mark":{"type":"area","orient":"horizontal","color":"#e3e3e3","opacity":1},
    "encoding":{"y":{"field":"y","type":"quantitative","scale":{"domain":[0,3.49],"nice":false,"zero":false},"axis":null},
                "x":{"field":"xl","type":"quantitative","scale":{"domain":[-3.16,4.0],"nice":false,"zero":false},"axis":null},
                "x2":{"field":"xr"}}},
   {"data":{"values":[{}]},"mark":{"type":"rule","color":"#000","strokeWidth":1},
    "encoding":{"x":{"datum":0.93,"type":"quantitative","scale":{"domain":[-3.16,4.0],"nice":false,"zero":false},"axis":null},
                "y":{"datum":3.49,"type":"quantitative","scale":{"domain":[0,3.49],"nice":false,"zero":false},"axis":null},
                "x2":{"datum":0.83},"y2":{"datum":0}}},
   {"data":{"name":"cSegL"},"mark":{"type":"rule","color":"#aaa","strokeDash":[3,2],"strokeWidth":1,"clip":true},
    "encoding":{"x":{"field":"x","type":"quantitative","scale":{"domain":[-3.16,4.0],"nice":false,"zero":false},"axis":null},
                "y":{"field":"y","type":"quantitative","scale":{"domain":[0,3.49],"nice":false,"zero":false},"axis":null},
                "x2":{"field":"x2"},"y2":{"field":"y2"}}},
   {"data":{"name":"cSeg"},"mark":{"type":"rule","color":"#333","strokeDash":[3,2],"strokeWidth":1,"clip":true},
    "encoding":{"x":{"field":"x","type":"quantitative","scale":{"domain":[-3.16,4.0],"nice":false,"zero":false},"axis":null},
                "y":{"field":"y","type":"quantitative","scale":{"domain":[0,3.49],"nice":false,"zero":false},"axis":null},
                "x2":{"field":"x2"},"y2":{"field":"y2"}}},
   {"data":{"name":"cHollow"},"mark":{"type":"point","filled":false,"color":"#2b3cf0","size":16,"strokeWidth":1,"opacity":1},
    "encoding":{"x":{"field":"x","type":"quantitative","scale":{"domain":[-3.16,4.0],"nice":false,"zero":false},"axis":null},
                "y":{"field":"y","type":"quantitative","scale":{"domain":[0,3.49],"nice":false,"zero":false},"axis":null}}},
   {"data":{"name":"cBlue"},"mark":{"type":"circle","color":"#2b3cf0","size":18,"opacity":1},
    "encoding":{"x":{"field":"x","type":"quantitative","scale":{"domain":[-3.16,4.0],"nice":false,"zero":false},"axis":null},
                "y":{"field":"y","type":"quantitative","scale":{"domain":[0,3.49],"nice":false,"zero":false},"axis":null}}},
   {"data":{"name":"cRed"},"mark":{"type":"circle","color":"#f02a2a","size":18,"opacity":1},
    "encoding":{"x":{"field":"x","type":"quantitative","scale":{"domain":[-3.16,4.0],"nice":false,"zero":false},"axis":null},
                "y":{"field":"y","type":"quantitative","scale":{"domain":[0,3.49],"nice":false,"zero":false},"axis":null}}},
   {"data":{"values":[{}]},"mark":{"type":"text","text":"π⁻¹(U)","font":"DejaVu Serif","fontSize":17,"fontStyle":"italic","align":"left","baseline":"alphabetic","color":"#000"},
    "encoding":{"x":{"datum":0.97,"type":"quantitative","scale":{"domain":[-3.16,4.0],"nice":false,"zero":false},"axis":null},
                "y":{"datum":3.05,"type":"quantitative","scale":{"domain":[0,3.49],"nice":false,"zero":false},"axis":null}}},
   {"data":{"values":[{}]},"mark":{"type":"text","text":"ℬ","font":"DejaVu Serif","fontSize":19,"align":"center","baseline":"alphabetic","color":"#000"},
    "encoding":{"x":{"datum":-2.52,"type":"quantitative","scale":{"domain":[-3.16,4.0],"nice":false,"zero":false},"axis":null},
                "y":{"datum":2.34,"type":"quantitative","scale":{"domain":[0,3.49],"nice":false,"zero":false},"axis":null}}},
   {"data":{"values":[{}]},"mark":{"type":"text","text":"ℛ","font":"DejaVu Serif","fontSize":19,"align":"center","baseline":"alphabetic","color":"#f02a2a"},
    "encoding":{"x":{"datum":-2.18,"type":"quantitative","scale":{"domain":[-3.16,4.0],"nice":false,"zero":false},"axis":null},
                "y":{"datum":0.87,"type":"quantitative","scale":{"domain":[0,3.49],"nice":false,"zero":false},"axis":null}}},
   {"data":{"values":[{}]},"mark":{"type":"text","text":"U","font":"DejaVu Serif","fontSize":20,"fontStyle":"italic","align":"center","baseline":"alphabetic","color":"#f02a2a"},
    "encoding":{"x":{"datum":1.32,"type":"quantitative","scale":{"domain":[-3.16,4.0],"nice":false,"zero":false},"axis":null},
                "y":{"datum":1.54,"type":"quantitative","scale":{"domain":[0,3.49],"nice":false,"zero":false},"axis":null}}},
   {"data":{"values":[{}]},"mark":{"type":"text","text":"c","font":"Liberation Sans","fontSize":20,"fontWeight":"bold","align":"center","baseline":"alphabetic","color":"#000"},
    "encoding":{"x":{"datum":-3.44,"type":"quantitative","scale":{"domain":[-3.16,4.0],"nice":false,"zero":false},"axis":null},
                "y":{"datum":3.2,"type":"quantitative","scale":{"domain":[0,3.49],"nice":false,"zero":false},"axis":null}}}
  ]}
 ]}
]}
]
}
